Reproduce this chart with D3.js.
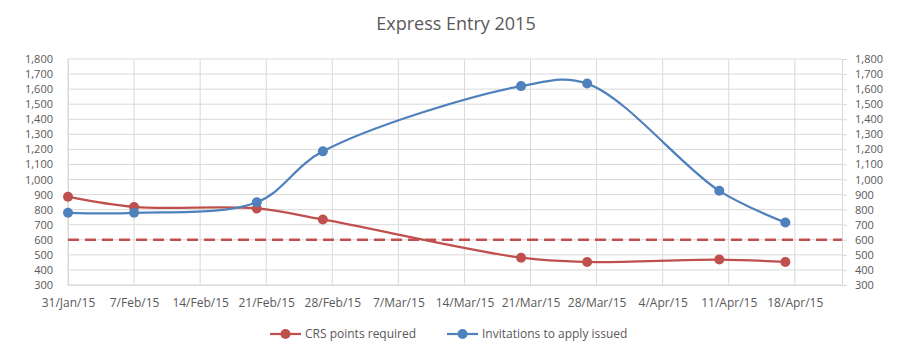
<!DOCTYPE html>
<html>
<head>
<meta charset="utf-8">
<script src="https://cdn.jsdelivr.net/npm/d3@7"></script>
<style>
  html, body { margin: 0; padding: 0; background: #fff; }
  svg { display: block; font-family: "Open Sans", sans-serif; }
</style>
</head>
<body>
<svg id="chart" width="911" height="354"></svg>
<script>
const drawDates = ["2015-01-31", "2015-02-07", "2015-02-20", "2015-02-27", "2015-03-20", "2015-03-27", "2015-04-10", "2015-04-17"];
const crsPoints = [886, 818, 808, 735, 481, 453, 469, 453];
const invitations = [779, 779, 849, 1187, 1620, 1637, 925, 715];
const thresholdValue = 600;
const seriesNames = ["CRS points required", "Invitations to apply issued"];
const tickDates = ["2015-01-31", "2015-02-07", "2015-02-14", "2015-02-21", "2015-02-28", "2015-03-07", "2015-03-14", "2015-03-21", "2015-03-28", "2015-04-04", "2015-04-11", "2015-04-18"];
const yTicks = d3.range(300, 1801, 100);

const parse = d3.utcParse("%Y-%m-%d");
const fmtDate = d3.utcFormat("%-d/%b/%y");
const fmtNum = d3.format(",");

const svg = d3.select("#chart");
const margin = { top: 59, right: 69, bottom: 69, left: 68 };
const width = 911 - margin.left - margin.right;
const height = 354 - margin.top - margin.bottom;

const red = "#c0504d";
const blue = "#4f81bd";
const grid = "#d9d9d9";
const textColor = "#595959";

const x = d3.scaleUtc()
  .domain([parse("2015-01-31"), parse("2015-04-23")])
  .range([margin.left, margin.left + width]);

const y = d3.scaleLinear()
  .domain([300, 1800])
  .range([margin.top + height, margin.top]);

// title
svg.append("text")
  .attr("x", 456)
  .attr("y", 30)
  .attr("text-anchor", "middle")
  .attr("font-size", "18px")
  .attr("fill", textColor)
  .text("Express Entry 2015");

// gridlines
svg.append("g")
  .selectAll("line.h")
  .data(yTicks)
  .join("line")
  .attr("x1", margin.left)
  .attr("x2", margin.left + width)
  .attr("y1", (d) => y(d))
  .attr("y2", (d) => y(d))
  .attr("stroke", grid);

svg.append("g")
  .selectAll("line.v")
  .data(tickDates.map(parse))
  .join("line")
  .attr("x1", (d) => x(d))
  .attr("x2", (d) => x(d))
  .attr("y1", margin.top)
  .attr("y2", margin.top + height)
  .attr("stroke", grid);

// axes
const yLeft = d3.axisLeft(y).tickValues(yTicks).tickFormat(fmtNum).tickSize(0).tickPadding(15);
const yRight = d3.axisRight(y).tickValues(yTicks).tickFormat(fmtNum).tickSize(5).tickPadding(8);
const xAxis = d3.axisBottom(x).tickValues(tickDates.map(parse)).tickFormat(fmtDate).tickSize(0).tickPadding(13);

function styleAxis(size) {
  return (g) => {
    g.selectAll(".domain").attr("stroke", grid);
    g.selectAll(".tick line").attr("stroke", grid);
    g.selectAll("text").attr("fill", textColor).attr("font-size", size)
      .attr("font-family", "'Open Sans', sans-serif");
  };
}

svg.append("g")
  .attr("transform", `translate(${margin.left},0)`)
  .call(yLeft)
  .call(styleAxis("11px"));

svg.append("g")
  .attr("transform", `translate(${margin.left + width},0)`)
  .call(yRight)
  .call(styleAxis("11px"));

svg.append("g")
  .attr("transform", `translate(0,${margin.top + height})`)
  .call(xAxis)
  .call(styleAxis("12px"));

// threshold dashed line
svg.append("line")
  .attr("x1", margin.left)
  .attr("x2", margin.left + width)
  .attr("y1", y(thresholdValue))
  .attr("y2", y(thresholdValue))
  .attr("stroke", red)
  .attr("stroke-width", 2.5)
  .attr("stroke-dasharray", "11,6");

// series
const series = [
  { name: seriesNames[0], values: crsPoints, color: red },
  { name: seriesNames[1], values: invitations, color: blue },
];

const line = d3.line()
  .x((d) => x(d.date))
  .y((d) => y(d.value))
  .curve(d3.curveCatmullRom.alpha(0.5));

series.forEach((s) => {
  const pts = drawDates.map((d, i) => ({ date: parse(d), value: s.values[i] }));
  svg.append("path")
    .datum(pts)
    .attr("fill", "none")
    .attr("stroke", s.color)
    .attr("stroke-width", 2.25)
    .attr("d", line);
  svg.append("g")
    .selectAll("circle")
    .data(pts)
    .join("circle")
    .attr("cx", (d) => x(d.date))
    .attr("cy", (d) => y(d.value))
    .attr("r", 5)
    .attr("fill", s.color);
});

// legend
const legendX = [270, 447];
const legend = svg.append("g")
  .selectAll("g")
  .data(series)
  .join("g")
  .attr("transform", (d, i) => `translate(${legendX[i]},334)`);

legend.append("line")
  .attr("x1", 0)
  .attr("x2", 31)
  .attr("stroke", (d) => d.color)
  .attr("stroke-width", 2.25);

legend.append("circle")
  .attr("cx", 15.5)
  .attr("r", 5)
  .attr("fill", (d) => d.color);

legend.append("text")
  .attr("x", 35)
  .attr("dy", "0.35em")
  .attr("font-size", "12px")
  .attr("fill", textColor)
  .text((d) => d.name);
</script>
</body>
</html>
